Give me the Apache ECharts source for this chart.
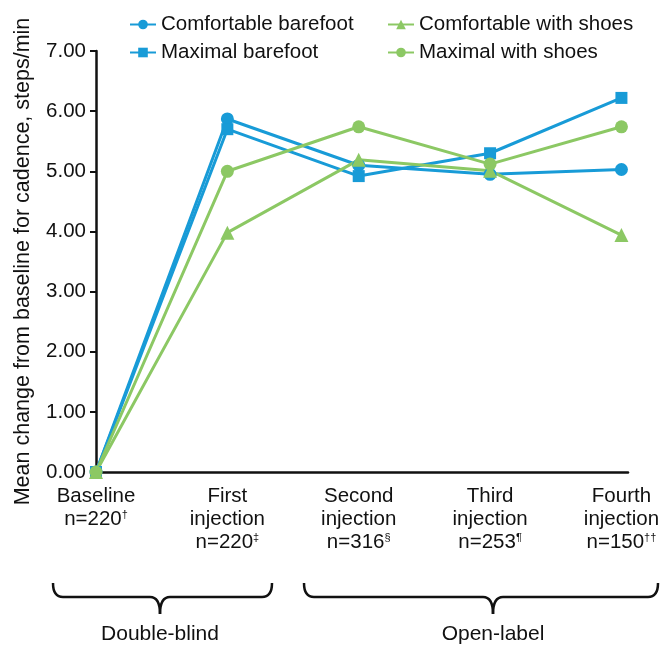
<!DOCTYPE html>
<html>
<head>
<meta charset="utf-8">
<script src="https://cdn.jsdelivr.net/npm/echarts@6/dist/echarts.min.js"></script>
<style>html,body{margin:0;padding:0;background:#fff}#c{width:671px;height:647px}</style>
</head>
<body>
<div id="c"></div>
<script>
var categories = ['Baseline', 'First\ninjection', 'Second\ninjection', 'Third\ninjection', 'Fourth\ninjection'];
var nLabels = ['n=220', 'n=220', 'n=316', 'n=253', 'n=150'];
var nMarks = ['\u2020', '\u2021', '\u00a7', '\u00b6', '\u2020\u2020'];
var comfortableBarefoot = [0, 5.87, 5.10, 4.95, 5.03];
var maximalBarefoot = [0, 5.70, 4.92, 5.30, 6.22];
var comfortableShoes = [0, 3.98, 5.19, 5.01, 3.94];
var maximalShoes = [0, 5.00, 5.74, 5.12, 5.74];
var yTicks = [0, 1, 2, 3, 4, 5, 6, 7];
var groups = ['Double-blind', 'Open-label'];

var BLUE = '#189bd7';
var GREEN = '#8cc864';
var FONT = 'Liberation Sans';
var FS = 20.5;

function pairs(arr) { return arr.map(function (v, i) { return [i, v]; }); }

function mkSeries(name, data, color, symbol, size) {
  return {
    name: name, type: 'line', data: pairs(data), symbol: symbol, symbolSize: size,
    lineStyle: { color: color, width: 3 }, itemStyle: { color: color },
    emphasis: { disabled: true }, z: 3
  };
}

function brace(x0, xc, x1, yTop, yMid, yBot) {
  var st = { stroke: '#111', lineWidth: 2.5, fill: null };
  var r = 10;
  return [
    { type: 'bezierCurve', shape: { x1: x0, y1: yTop, x2: x0 + r, y2: yMid, cpx1: x0, cpy1: yMid }, style: st },
    { type: 'line', shape: { x1: x0 + r, y1: yMid, x2: xc - r, y2: yMid }, style: st },
    { type: 'bezierCurve', shape: { x1: xc - r, y1: yMid, x2: xc, y2: yBot, cpx1: xc, cpy1: yMid }, style: st },
    { type: 'bezierCurve', shape: { x1: xc + r, y1: yMid, x2: xc, y2: yBot, cpx1: xc, cpy1: yMid }, style: st },
    { type: 'line', shape: { x1: xc + r, y1: yMid, x2: x1 - r, y2: yMid }, style: st },
    { type: 'bezierCurve', shape: { x1: x1 - r, y1: yMid, x2: x1, y2: yTop, cpx1: x1, cpy1: yMid }, style: st }
  ];
}

var chart = echarts.init(document.getElementById('c'), null, { renderer: 'canvas' });
var legendText = { fontFamily: FONT, fontSize: FS, color: '#111' };
var graphics = brace(53, 160, 272, 583, 597, 614).concat(brace(304, 493, 658, 583, 597, 614));
graphics.push({ type: 'text', style: { text: groups[0], x: 160, y: 634, align: 'center', verticalAlign: 'middle', fontSize: 21, fontFamily: FONT, fill: '#111' } });
graphics.push({ type: 'text', style: { text: groups[1], x: 493, y: 634, align: 'center', verticalAlign: 'middle', fontSize: 21, fontFamily: FONT, fill: '#111' } });

chart.setOption({
  animation: false,
  textStyle: { fontFamily: FONT },
  grid: { left: 96, right: 43, top: 51, bottom: 175, containLabel: false },
  legend: [
    { data: ['Comfortable barefoot', 'Maximal barefoot'], orient: 'vertical', left: 124, top: 9,
      itemWidth: 26, itemHeight: 12, itemGap: 7, textStyle: legendText, selectedMode: false },
    { data: ['Comfortable with shoes', 'Maximal with shoes'], orient: 'vertical', left: 382, top: 9,
      itemWidth: 26, itemHeight: 12, itemGap: 7, textStyle: legendText, selectedMode: false }
  ],
  xAxis: {
    type: 'value', min: 0, max: 4.05, interval: 1,
    splitLine: { show: false },
    axisLine: { show: true, lineStyle: { color: '#111', width: 2.5 } },
    axisTick: { show: false },
    axisLabel: {
      margin: 13, verticalAlign: 'top', lineHeight: 23, color: '#111', fontSize: FS, fontFamily: FONT,
      showMaxLabel: true,
      formatter: function (v) {
        if (Math.abs(v - Math.round(v)) > 1e-6) return '';
        var i = Math.round(v);
        if (i < 0 || i >= categories.length) return '';
        var lines = categories[i].split('\n').map(function (s) { return '{t|' + s + '}'; });
        lines.push('{t|' + nLabels[i] + '}{s|' + nMarks[i] + '}');
        return lines.join('\n');
      },
      rich: {
        t: { fontSize: FS, lineHeight: 23, color: '#111', fontFamily: FONT },
        s: { fontSize: 11, lineHeight: 23, color: '#111', fontFamily: FONT, verticalAlign: 'top', padding: [1, 0, 0, 0] }
      }
    }
  },
  yAxis: {
    type: 'value', min: yTicks[0], max: yTicks[yTicks.length - 1], interval: 1,
    name: 'Mean change from baseline for cadence, steps/min',
    nameLocation: 'middle', nameGap: 62, nameRotate: 90,
    nameTextStyle: { fontSize: 21.5, color: '#111', fontFamily: FONT },
    splitLine: { show: false },
    axisLine: { show: true, lineStyle: { color: '#111', width: 2.5 } },
    axisTick: { show: true, inside: false, length: 6, lineStyle: { color: '#111', width: 2 } },
    axisLabel: { margin: 10, color: '#111', fontSize: FS, fontFamily: FONT,
      formatter: function (v) { return v.toFixed(2); } }
  },
  series: [
    mkSeries('Comfortable barefoot', comfortableBarefoot, BLUE, 'circle', 13),
    mkSeries('Maximal barefoot', maximalBarefoot, BLUE, 'rect', 12),
    mkSeries('Comfortable with shoes', comfortableShoes, GREEN, 'triangle', 14),
    mkSeries('Maximal with shoes', maximalShoes, GREEN, 'circle', 13)
  ],
  graphic: graphics
});
</script>
</body>
</html>
